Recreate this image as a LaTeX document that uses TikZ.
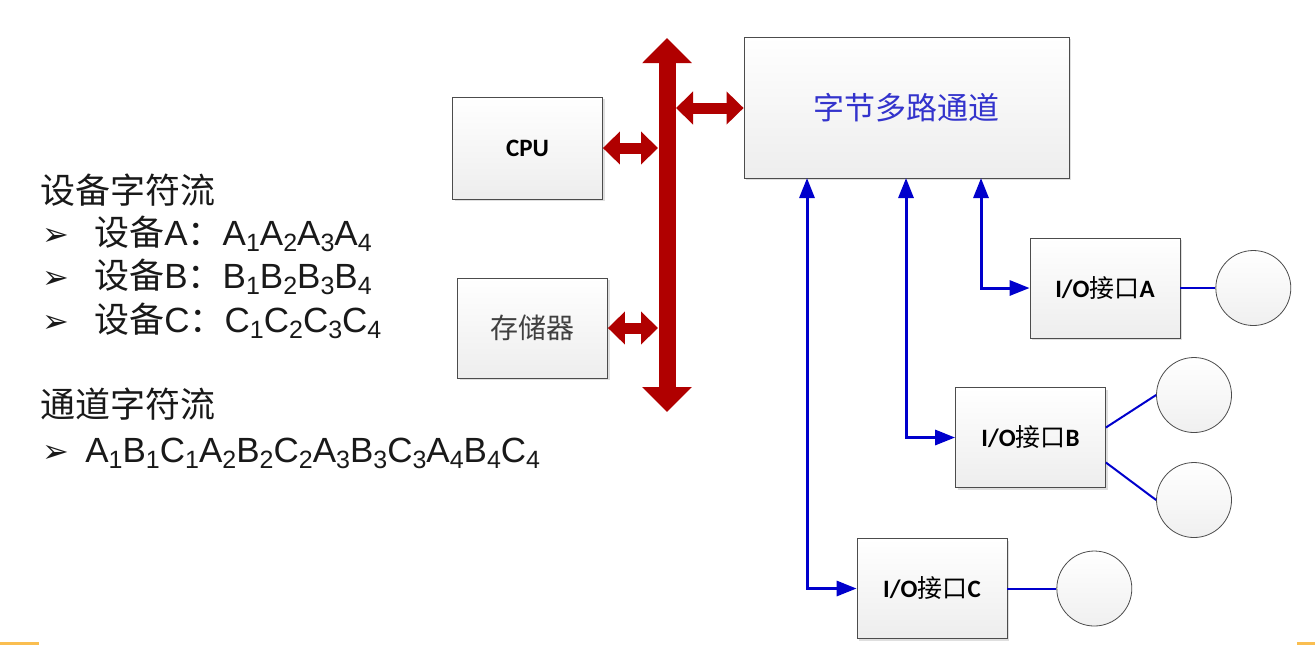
\documentclass[tikz,border=0pt]{standalone}
\usepackage{fontspec}
\setmainfont{Liberation Sans}
\newfontfamily\cjk{Noto Sans CJK SC}
\newfontfamily\calib{Carlito}
\newfontfamily\dejavu{DejaVu Sans}
\usetikzlibrary{arrows.meta, positioning, calc, shadows}
\definecolor{busred}{RGB}{176,0,0}
\definecolor{linkblue}{RGB}{0,0,204}
\definecolor{chantext}{RGB}{51,51,204}
\definecolor{slideorange}{RGB}{250,190,80}
\newcommand{\sq}[2]{#1\raisebox{-3pt}{\fontsize{12.5}{13}\selectfont #2}}
\newcommand{\bul}{{\dejavu\fontsize{16}{16}\selectfont ➢}}
\newcommand{\iolabel}[1]{I/O{\cjk\mdseries 接口}#1}

\begin{document}
\begin{tikzpicture}[
    x=0.5pt, y=-0.5pt,
    block/.style={rectangle, draw=gray!60!black, top color=white, bottom color=gray!14, drop shadow={opacity=0.25, shadow xshift=1pt, shadow yshift=-1pt}, minimum width=75pt, minimum height=50pt, align=center, inner sep=0pt, font=\calib\bfseries\fontsize{12.5}{15}\selectfont},
    dev/.style={circle, draw=gray!60!black, top color=white, bottom color=gray!12, minimum size=37.5pt, inner sep=0pt},
    listtext/.style={anchor=base west, inner sep=0pt, text=black!90, font=\fontsize{17.5}{21}\selectfont},
    bus/.style={line width=8.5pt, busred, {Triangle[width=24pt,length=12.5pt]}-{Triangle[width=24pt,length=12.5pt]}},
    tap/.style={line width=5.5pt, busred, {Triangle[width=16pt,length=8.5pt]}-{Triangle[width=16pt,length=8.5pt]}},
    link/.style={line width=1.5pt, linkblue, {Triangle[width=7.5pt,length=10pt]}-{Triangle[width=7.5pt,length=10pt]}},
    wire/.style={line width=1pt, linkblue},
]
\useasboundingbox (0,0) rectangle (1315,645);
\fill[slideorange] (0,642) rectangle (39,645);
\fill[slideorange] (1297,642) rectangle (1315,645);

\node[listtext] (devtitle) at (40,203) {\cjk 设备字符流};
\node[listtext] (deva) at (42,245) {\makebox[26pt][l]{\bul}{\cjk 设备}A{\cjk ：}\sq{A}{1}\sq{A}{2}\sq{A}{3}\sq{A}{4}};
\node[listtext] (devb) at (42,288) {\makebox[26pt][l]{\bul}{\cjk 设备}B{\cjk ：}\sq{B}{1}\sq{B}{2}\sq{B}{3}\sq{B}{4}};
\node[listtext] (devc) at (42,332) {\makebox[26pt][l]{\bul}{\cjk 设备}C{\cjk ：}\sq{C}{1}\sq{C}{2}\sq{C}{3}\sq{C}{4}};
\node[listtext] (chantitle) at (40,417) {\cjk 通道字符流};
\node[listtext] (chanseq) at (42,462) {\makebox[21.5pt][l]{\bul}\sq{A}{1}\sq{B}{1}\sq{C}{1}\sq{A}{2}\sq{B}{2}\sq{C}{2}\sq{A}{3}\sq{B}{3}\sq{C}{3}\sq{A}{4}\sq{B}{4}\sq{C}{4}};

\node[block, minimum height=51pt] (cpu) at (527.5,148) {CPU};
\node[block, font=\cjk\fontsize{14}{16}\selectfont, text=black!75] (mem) at (532.5,328) {存储器};
\node[block, minimum width=162.5pt, minimum height=70.5pt, font=\cjk\fontsize{15.5}{18}\selectfont, text=chantext] (chan) at (906.5,107.5) {字节多路通道};
\node[block] (ioa) at (1105,288) {\iolabel{A}};
\node[block] (iob) at (1030.5,437.5) {\iolabel{B}};
\node[block] (ioc) at (932,588.5) {\iolabel{C}};

\node[dev, right=17.5pt of ioa] (cira) {};
\node[dev] (cirb1) at (1194,395) {};
\node[dev] (cirb2) at (1194,500) {};
\node[dev, right=24.5pt of ioc] (circ) {};

\coordinate (bustop) at (667,38);
\coordinate (busbot) at (667,412);
\coordinate (tapcpu) at (658,148);
\coordinate (tapmem) at (658,328);
\coordinate (tapchan) at (676,108);
\coordinate (outa) at (981,178);
\coordinate (outb) at (906,178);
\coordinate (outc) at (807,178);

\draw[bus] (bustop) -- (busbot);
\draw[tap] (cpu.east) -- (tapcpu);
\draw[tap] (mem.east) -- (tapmem);
\draw[tap] (tapchan) -- (tapchan -| chan.west);

\draw[link] (outa) |- (ioa.west);
\draw[link] (outb) |- (iob.west);
\draw[link] (outc) |- (ioc.west);

\draw[wire] (ioa) -- (cira);
\draw[wire] ($(iob.east)+(0,-10)$) -- (cirb1.west);
\draw[wire] ($(iob.east)+(0,25)$) -- (cirb2.west);
\draw[wire] (ioc) -- (circ);

\end{tikzpicture}
\end{document}
